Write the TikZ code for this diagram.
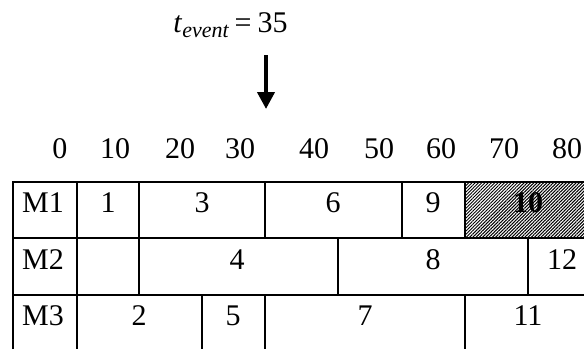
\documentclass[tikz,border=0pt]{standalone}
\usepackage{fontspec}
\setmainfont{Liberation Serif}
\usetikzlibrary{arrows.meta,patterns.meta}

\begin{document}
\begin{tikzpicture}[x=0.5pt,y=-0.5pt,font=\fontsize{15}{18}\selectfont,
    >={Triangle[length=8.5pt,width=8.5pt]},
    grid/.style={line width=0.9pt},
    busy/.style={pattern={Lines[angle=45,distance=1.15pt,line width=0.5pt]}}]
  \useasboundingbox (0,0) rectangle (584,349);
  % event time
  \node[anchor=base west,inner sep=0pt] (tev) at (173,32)
    {\textit{t}\raisebox{-2.5pt}{\fontsize{11}{12}\selectfont\itshape event}\hspace{0.2em}=\hspace{0.2em}35};
  \coordinate (evtop) at (266,55);
  \coordinate (evbot) at (266,109);
  \draw[->,line width=2pt] (evtop) -- (evbot);
  % time axis
  \node (t0)  at (60,149)  {0};
  \node (t10) at (115,149) {10};
  \node (t20) at (180,149) {20};
  \node (t30) at (240,149) {30};
  \node (t40) at (314,149) {40};
  \node (t50) at (379,149) {50};
  \node (t60) at (441,149) {60};
  \node (t70) at (504,149) {70};
  \node (t80) at (567,149) {80};
  % hatched job
  \fill[busy] (465,182) rectangle (584,238);
  % grid
  \draw[grid] (13,349) -- (13,182) -- (584,182);
  \draw[grid] (13,238) -- (584,238);
  \draw[grid] (13,295) -- (584,295);
  \draw[grid] (77,182) -- (77,349);
  \draw[grid] (139,182) -- (139,295);
  \draw[grid] (265,182) -- (265,238);
  \draw[grid] (402,182) -- (402,238);
  \draw[grid] (465,182) -- (465,238);
  \draw[grid] (338,238) -- (338,295);
  \draw[grid] (528,238) -- (528,295);
  \draw[grid] (202,295) -- (202,349);
  \draw[grid] (265,295) -- (265,349);
  \draw[grid] (465,295) -- (465,349);
  % machines
  \node (m1) at (43,203) {M1};
  \node (m2) at (43,260) {M2};
  \node (m3) at (43,316) {M3};
  % jobs
  \node (j1)  at (108,203) {1};
  \node (j3)  at (202,203) {3};
  \node (j6)  at (333,203) {6};
  \node (j9)  at (433,203) {9};
  \node[font=\fontsize{15}{18}\selectfont\bfseries] (j10) at (528,203) {10};
  \node (j4)  at (237,260) {4};
  \node (j8)  at (433,260) {8};
  \node (j12) at (562,260) {12};
  \node (j2)  at (139,316) {2};
  \node (j5)  at (233,316) {5};
  \node (j7)  at (365,316) {7};
  \node (j11) at (528,316) {11};
\end{tikzpicture}
\end{document}
